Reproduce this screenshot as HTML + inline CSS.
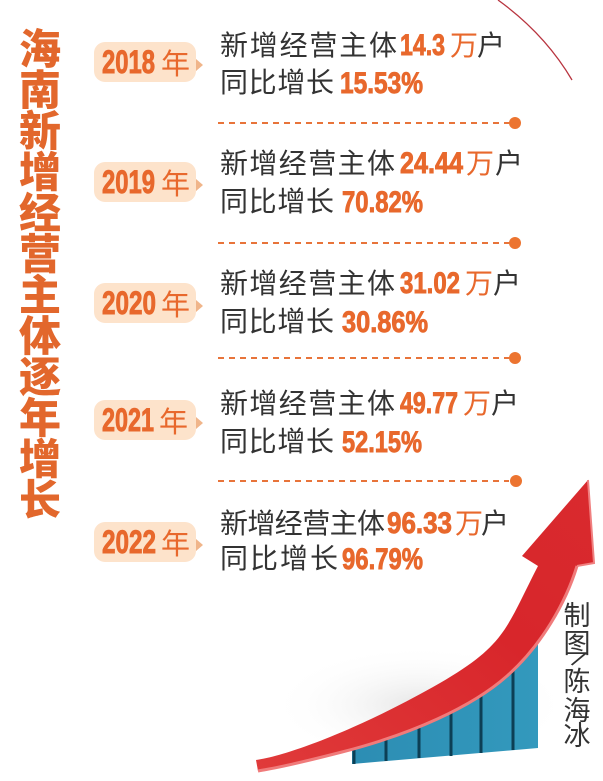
<!DOCTYPE html>
<html>
<head>
<meta charset="utf-8">
<style>
  html,body{margin:0;padding:0;background:#fff;}
  svg{display:block;}
  .cjk{font-family:"Liberation Sans","Noto Sans CJK SC",sans-serif;}
  .num{font-family:"Liberation Sans","Noto Sans CJK SC",sans-serif;font-weight:bold;fill:#e8682c;stroke:#e8682c;stroke-width:0.9;}
</style>
</head>
<body>
<svg width="603" height="781" viewBox="0 0 603 781" xmlns="http://www.w3.org/2000/svg">
  <defs>
    <radialGradient id="shadow" cx="0.5" cy="0.5" r="0.5">
      <stop offset="0" stop-color="#e6e6e6"/>
      <stop offset="1" stop-color="#ffffff" stop-opacity="0"/>
    </radialGradient>
    <linearGradient id="bar" x1="0" y1="0" x2="1" y2="0">
      <stop offset="0" stop-color="#2c8db3"/>
      <stop offset="1" stop-color="#3399bd"/>
    </linearGradient>
    <linearGradient id="arrowg" x1="0" y1="1" x2="1" y2="0">
      <stop offset="0" stop-color="#e03a3a"/>
      <stop offset="0.6" stop-color="#d8262b"/>
      <stop offset="1" stop-color="#d92a2e"/>
    </linearGradient>
  </defs>

  <rect width="603" height="781" fill="#ffffff"/>

  <!-- top-right arc -->
  <path d="M498,0 Q545,34 572,80" fill="none" stroke="#b8343f" stroke-width="1.3"/>

  <!-- Title -->
  <g class="cjk" font-size="42" font-weight="900" fill="#e2672c" text-anchor="middle">
    <text x="40" y="64">海</text>
    <text x="40" y="105">南</text>
    <text x="40" y="146">新</text>
    <text x="40" y="187">增</text>
    <text x="40" y="228">经</text>
    <text x="40" y="269">营</text>
    <text x="40" y="310">主</text>
    <text x="40" y="351">体</text>
    <text x="40" y="392">逐</text>
    <text x="40" y="433">年</text>
    <text x="40" y="474">增</text>
    <text x="40" y="515">长</text>
  </g>

  <!-- Badges -->
  <g>
    <rect x="94" y="42" width="102" height="40" rx="11" fill="#fde3cb"/>
    <polygon points="196,59 203,65 196,71" fill="#f0b58a"/>
    <text class="num" x="102" y="73" font-size="32" textLength="53" lengthAdjust="spacingAndGlyphs">2018</text>
    <text class="cjk" x="161" y="74" font-size="29" fill="#e8682c">年</text>

    <rect x="94" y="162" width="102" height="40" rx="11" fill="#fde3cb"/>
    <polygon points="196,179 203,185 196,191" fill="#f0b58a"/>
    <text class="num" x="102" y="193" font-size="32" textLength="53" lengthAdjust="spacingAndGlyphs">2019</text>
    <text class="cjk" x="161" y="194" font-size="29" fill="#e8682c">年</text>

    <rect x="94" y="283" width="102" height="40" rx="11" fill="#fde3cb"/>
    <polygon points="196,300 203,306 196,312" fill="#f0b58a"/>
    <text class="num" x="102" y="314" font-size="32" textLength="54" lengthAdjust="spacingAndGlyphs">2020</text>
    <text class="cjk" x="161" y="315" font-size="29" fill="#e8682c">年</text>

    <rect x="94" y="400" width="102" height="40" rx="11" fill="#fde3cb"/>
    <polygon points="196,417 203,423 196,429" fill="#f0b58a"/>
    <text class="num" x="102" y="431" font-size="32" textLength="52" lengthAdjust="spacingAndGlyphs">2021</text>
    <text class="cjk" x="159" y="432" font-size="29" fill="#e8682c">年</text>

    <rect x="94" y="522" width="102" height="40" rx="11" fill="#fde3cb"/>
    <polygon points="196,539 203,545 196,551" fill="#f0b58a"/>
    <text class="num" x="102" y="553" font-size="32" textLength="54" lengthAdjust="spacingAndGlyphs">2022</text>
    <text class="cjk" x="161" y="554" font-size="29" fill="#e8682c">年</text>
  </g>

  <!-- Row texts -->
  <g class="cjk" font-size="28" fill="#333333">
    <text x="220" y="55" textLength="177" lengthAdjust="spacing">新增经营主体</text>
    <text x="450" y="55" fill="#e8682c">万</text>
    <text x="477" y="55">户</text>
    <text x="220" y="92" textLength="114" lengthAdjust="spacing">同比增长</text>

    <text x="220" y="173" textLength="175" lengthAdjust="spacing">新增经营主体</text>
    <text x="466" y="173" fill="#e8682c">万</text>
    <text x="495" y="173">户</text>
    <text x="220" y="211" textLength="114" lengthAdjust="spacing">同比增长</text>

    <text x="220" y="293" textLength="175" lengthAdjust="spacing">新增经营主体</text>
    <text x="465" y="293" fill="#e8682c">万</text>
    <text x="493" y="293">户</text>
    <text x="220" y="331" textLength="114" lengthAdjust="spacing">同比增长</text>

    <text x="220" y="413" textLength="175" lengthAdjust="spacing">新增经营主体</text>
    <text x="463" y="413" fill="#e8682c">万</text>
    <text x="491" y="413">户</text>
    <text x="220" y="451" textLength="114" lengthAdjust="spacing">同比增长</text>

    <text x="220" y="533" textLength="165" lengthAdjust="spacing">新增经营主体</text>
    <text x="455" y="533" fill="#e8682c">万</text>
    <text x="481" y="533">户</text>
    <text x="220" y="568" textLength="118" lengthAdjust="spacing">同比增长</text>
  </g>

  <g font-size="30">
    <text class="num" x="400" y="55" textLength="45" lengthAdjust="spacingAndGlyphs">14.3</text>
    <text class="num" x="340" y="93" textLength="83" lengthAdjust="spacingAndGlyphs">15.53%</text>
    <text class="num" x="400" y="173" textLength="63" lengthAdjust="spacingAndGlyphs">24.44</text>
    <text class="num" x="342" y="212" textLength="81" lengthAdjust="spacingAndGlyphs">70.82%</text>
    <text class="num" x="400" y="293" textLength="60" lengthAdjust="spacingAndGlyphs">31.02</text>
    <text class="num" x="342" y="332" textLength="86" lengthAdjust="spacingAndGlyphs">30.86%</text>
    <text class="num" x="400" y="413" textLength="58" lengthAdjust="spacingAndGlyphs">49.77</text>
    <text class="num" x="342" y="452" textLength="80" lengthAdjust="spacingAndGlyphs">52.15%</text>
    <text class="num" x="387" y="533" textLength="65" lengthAdjust="spacingAndGlyphs">96.33</text>
    <text class="num" x="342" y="569" textLength="81" lengthAdjust="spacingAndGlyphs">96.79%</text>
  </g>

  <!-- Dashed separators -->
  <g stroke="#e8743a" stroke-width="2" stroke-dasharray="6 5" fill="none">
    <line x1="218" y1="123" x2="509" y2="123"/>
    <line x1="218" y1="243" x2="509" y2="243"/>
    <line x1="218" y1="358" x2="509" y2="358"/>
    <line x1="218" y1="481" x2="509" y2="481"/>
  </g>
  <g fill="#ec7430">
    <circle cx="515" cy="123" r="6"/>
    <circle cx="515" cy="243" r="6"/>
    <circle cx="515" cy="358" r="6"/>
    <circle cx="516" cy="481" r="6"/>
  </g>

  <!-- shadow behind chart -->
  <ellipse cx="420" cy="705" rx="150" ry="60" fill="url(#shadow)"/>

  <!-- Bars -->
  <polygon points="352,750 538,628 538,748 352,764" fill="url(#bar)"/>
  <g stroke="#0c3f55" stroke-width="3">
    <line x1="354" y1="745" x2="354" y2="764"/>
    <line x1="386" y1="724" x2="386" y2="761"/>
    <line x1="419" y1="702" x2="419" y2="758"/>
    <line x1="451" y1="682" x2="451" y2="756"/>
    <line x1="481" y1="662" x2="481" y2="753"/>
    <line x1="513" y1="640" x2="513" y2="750"/>
  </g>

  <!-- Arrow -->
  <path d="M256,760 C290,755 360,728 433,687 S505,630 538,566 L522,556 L588,480 L594,563 L577,566 C566,602 542,645 507,676 S412,734 342,752 S272,768 258,771 Z" fill="url(#arrowg)"/>
  <path d="M577,566 C566,602 542,645 507,676 S412,734 342,752 S272,768 258,771" fill="none" stroke="#f07b7b" stroke-width="3"/>
  <path d="M588,480 L594,563 L577,566" fill="none" stroke="#f08080" stroke-width="2"/>

  <!-- Credit -->
  <g class="cjk" font-size="27" fill="#333333" text-anchor="middle">
    <text x="577" y="625">制</text>
    <text x="577" y="653">图</text>
    <text x="577" y="691">陈</text>
    <text x="577" y="720">海</text>
    <text x="577" y="745">冰</text>
  </g>
  <text x="0" y="0" font-family="Liberation Sans, sans-serif" font-size="24" fill="#333333" text-anchor="middle" dominant-baseline="central" transform="translate(578,660) rotate(35)">/</text>
</svg>
</body>
</html>
